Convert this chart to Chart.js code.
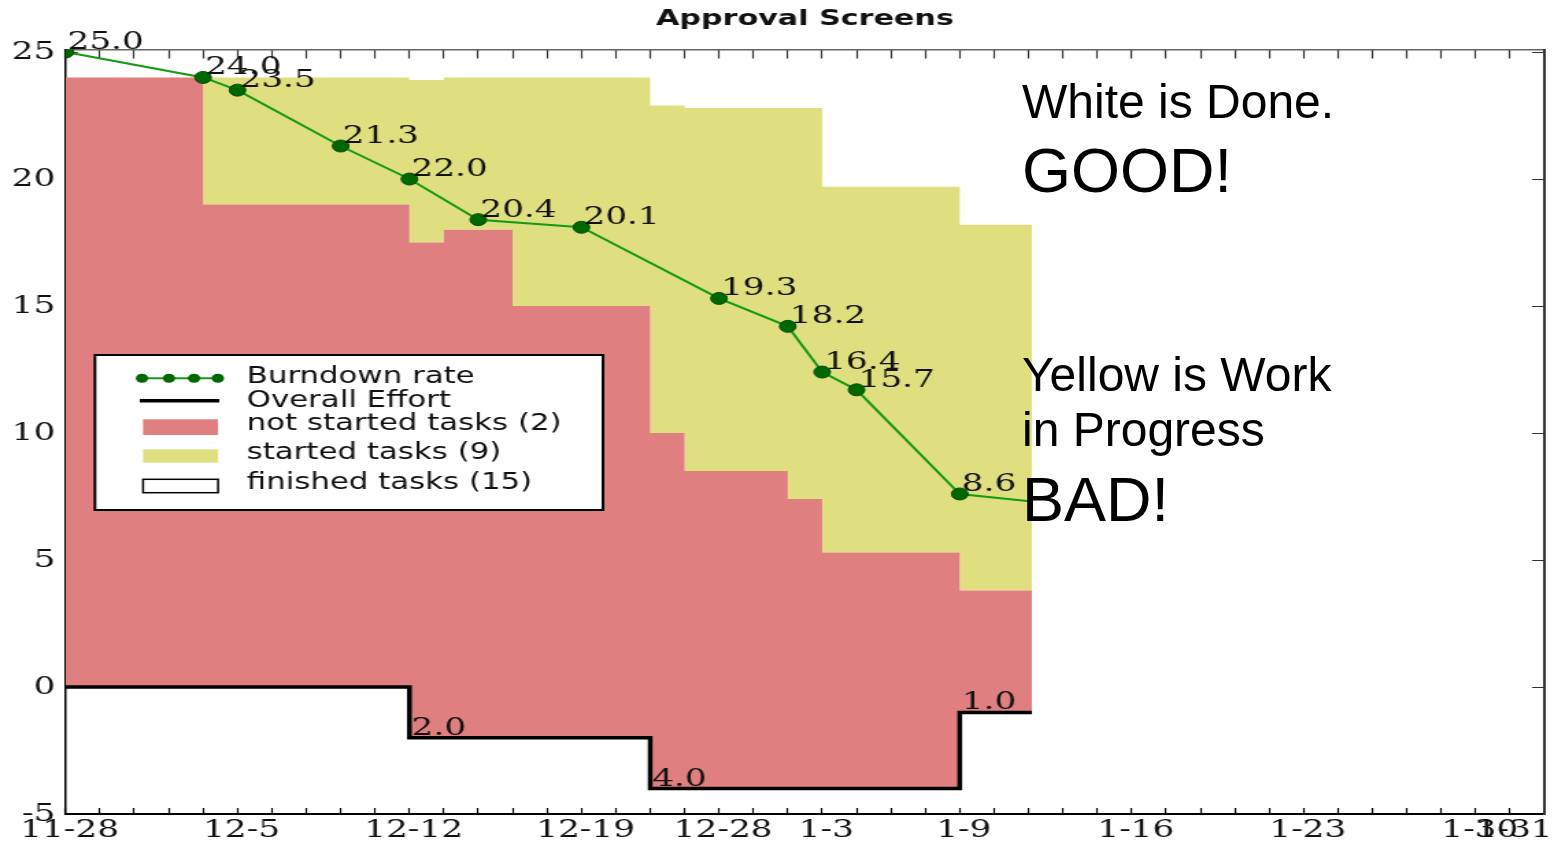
<!DOCTYPE html>
<html>
<head>
<meta charset="utf-8">
<title>Approval Screens</title>
<script src="https://cdn.jsdelivr.net/npm/chart.js@4"></script>
<style>
    html, body { margin: 0; padding: 0; background: #fff; overflow: hidden; }
    #wrap { position: relative; width: 1554px; height: 845px; }
    #chart { position: absolute; left: 0; top: 0; }
    .note { position: absolute; left: 1022px; font-family: "Liberation Sans", Arial, sans-serif; color: #000; line-height: 1; white-space: nowrap; }
    .small { font-size: 48px; }
    .big { font-size: 63px; }
</style>
</head>
<body>
<div id="wrap">
    <!-- the picture is a horizontally stretched plot, so the canvas is drawn narrow and stretched -->
    <canvas id="chart" width="1134" height="845" style="width:1554px;height:845px"></canvas>
    <div class="note small" style="top: 78px;">White is Done.</div>
    <div class="note big" style="top: 139px;">GOOD!</div>
    <div class="note small" style="top: 351px;">Yellow is Work</div>
    <div class="note small" style="top: 406px;">in Progress</div>
    <div class="note big" style="top: 468px;">BAD!</div>
</div>
<script>
// x axis is working days counted from 11-28
const dayTicks = [0, 1, 2, 3, 4, 5, 6, 7, 8, 9, 10, 11, 12, 13, 14, 15, 16, 17, 18, 19, 20,
    21, 22, 23, 24, 25, 26, 27, 28, 29, 30, 31, 32, 33, 34, 35, 36, 37, 38, 39, 40, 41, 42];
const labelDays = [0, 5, 10, 15, 19, 22, 26, 31, 36, 41, 42];
const labelTexts = ['11-28', '12-5', '12-12', '12-19', '12-28', '1-3', '1-9', '1-16', '1-23', '1-30', '1-31'];
const yTicks = [-5, 0, 5, 10, 15, 20, 25];

// burndown rate
const burnDays = [0, 4, 5, 8, 10, 12, 15, 19, 21, 22, 23, 26, 28.1];
const burnValues = [25.0, 24.0, 23.5, 21.3, 20.0, 18.4, 18.1, 15.3, 14.2, 12.4, 11.7, 7.6, 7.3];
const burnLabels = ['25.0', '24.0', '23.5', '21.3', '22.0', '20.4', '20.1', '19.3', '18.2', '16.4', '15.7', '8.6', ''];

// stacked steps (value holds until the next day in the list)
const stepDays = [0, 4, 10, 11, 13, 17, 18, 21, 22, 26, 28.1];
const overallEffort = [0, 0, -2, -2, -2, -4, -4, -4, -4, -1, -1];
const notStartedTop = [24.0, 19.0, 17.5, 18.0, 15.0, 10.0, 8.5, 7.4, 5.3, 3.8, 3.8];
const startedTop = [24.0, 24.0, 23.9, 24.0, 24.0, 22.9, 22.8, 22.8, 19.7, 18.2, 18.2];

const effortLabelDays = [10, 17, 26];
const effortLabelTexts = ['2.0', '4.0', '1.0'];

const legendLabels = ['Burndown rate', 'Overall Effort', 'not started tasks (2)', 'started tasks (9)', 'finished tasks (15)'];

const GREEN = '#149a14';
const DOT = '#006800';
const RED = '#e07f80';
const YELLOW = '#e0df80';
const serif = '"DejaVu Serif", "Liberation Serif", serif';
const sans = '"DejaVu Sans", "Noto Sans", sans-serif';

const pts = (xs, ys) => xs.map((d, i) => ({ x: d, y: ys[i] }));

const valueLabels = {
    id: 'valueLabels',
    afterDatasetsDraw(chart) {
        const { ctx, scales: { x, y } } = chart;
        ctx.save();
        ctx.font = '25px ' + serif;
        ctx.fillStyle = '#111';
        ctx.textAlign = 'left';
        ctx.textBaseline = 'alphabetic';
        burnDays.forEach((d, i) => {
            if (!burnLabels[i]) return;
            ctx.fillText(burnLabels[i], x.getPixelForValue(d) + 1.5, y.getPixelForValue(burnValues[i]) - 3);
        });
        effortLabelDays.forEach((d, i) => {
            const v = overallEffort[stepDays.indexOf(d)];
            ctx.fillText(effortLabelTexts[i], x.getPixelForValue(d) + 1.5, y.getPixelForValue(v) - 3);
        });
        ctx.restore();
    }
};

// legend box sits inside the plot, left middle
const boxLegend = {
    id: 'boxLegend',
    afterDraw(chart) {
        const ctx = chart.ctx;
        const left = 69.3, top = 355, right = 440, bottom = 510;
        const hx0 = 104.4, hx1 = 159.1, tx = 180;
        ctx.save();
        ctx.fillStyle = '#fff';
        ctx.fillRect(left, top, right - left, bottom - top);
        ctx.strokeStyle = '#000';
        ctx.lineWidth = 2;
        ctx.strokeRect(left, top, right - left, bottom - top);

        // burndown handle
        ctx.strokeStyle = GREEN;
        ctx.lineWidth = 2;
        ctx.beginPath();
        ctx.moveTo(100, 378.3);
        ctx.lineTo(163, 378.3);
        ctx.stroke();
        ctx.fillStyle = DOT;
        [103.6, 123.3, 141.6, 159].forEach(cx => {
            ctx.beginPath();
            ctx.arc(cx, 378.3, 4.5, 0, Math.PI * 2);
            ctx.fill();
        });

        // overall effort handle
        ctx.strokeStyle = '#000';
        ctx.lineWidth = 3.5;
        ctx.beginPath();
        ctx.moveTo(102, 400.7);
        ctx.lineTo(160, 400.7);
        ctx.stroke();

        ctx.fillStyle = RED;
        ctx.fillRect(hx0, 419.3, hx1 - hx0, 15.7);
        ctx.fillStyle = YELLOW;
        ctx.fillRect(hx0, 449.3, hx1 - hx0, 13.4);
        ctx.fillStyle = '#fff';
        ctx.fillRect(hx0, 479.3, hx1 - hx0, 13.4);
        ctx.strokeStyle = '#000';
        ctx.lineWidth = 1.5;
        ctx.strokeRect(hx0, 479.3, hx1 - hx0, 13.4);

        ctx.font = '22.5px ' + sans;
        ctx.fillStyle = '#111';
        ctx.textAlign = 'left';
        ctx.textBaseline = 'alphabetic';
        const baselines = [383, 406.5, 430, 459, 489];
        legendLabels.forEach((t, i) => ctx.fillText(t, tx, baselines[i]));
        ctx.restore();
    }
};

new Chart(document.getElementById('chart'), {
    type: 'line',
    data: {
        datasets: [
            {
                label: legendLabels[0],
                data: pts(burnDays, burnValues),
                borderColor: GREEN,
                borderWidth: 2,
                tension: 0,
                fill: false,
                pointRadius: burnLabels.map(l => l ? 6 : 0),
                pointBackgroundColor: DOT,
                pointBorderColor: '#0b4a0b',
                pointBorderWidth: 1
            },
            {
                label: legendLabels[1],
                data: pts(stepDays, overallEffort),
                stepped: 'before',
                borderColor: '#000',
                borderWidth: 3.5,
                pointRadius: 0,
                fill: false
            },
            {
                label: legendLabels[2],
                data: pts(stepDays, notStartedTop),
                stepped: 'before',
                borderWidth: 0,
                borderColor: RED,
                backgroundColor: RED,
                pointRadius: 0,
                fill: 1
            },
            {
                label: legendLabels[3],
                data: pts(stepDays, startedTop),
                stepped: 'before',
                borderWidth: 0,
                borderColor: YELLOW,
                backgroundColor: YELLOW,
                pointRadius: 0,
                fill: 2
            }
        ]
    },
    options: {
        responsive: false,
        devicePixelRatio: 1,
        animation: false,
        events: [],
        layout: { padding: { left: 0, right: 5.1, top: 0, bottom: 0 } },
        plugins: {
            legend: { display: false },
            tooltip: { enabled: false },
            title: {
                display: true,
                text: 'Approval Screens',
                fullSize: false,
                color: '#111',
                font: { family: sans, size: 22, weight: 'bold' },
                padding: { top: 6, bottom: 17.1 }
            }
        },
        scales: {
            x: {
                type: 'linear',
                position: 'bottom',
                min: 0,
                max: 43,
                afterBuildTicks: s => { s.ticks = dayTicks.map(v => ({ value: v })); },
                afterFit: s => { s.height = 31; s.paddingLeft = 0; s.paddingRight = 0; },
                grid: { drawOnChartArea: false, drawTicks: true, tickLength: -6, tickColor: '#000', tickWidth: 1.2 },
                border: { color: '#000', width: 2 },
                ticks: {
                    autoSkip: false,
                    maxRotation: 0,
                    padding: 7,
                    labelOffset: 3,
                    color: '#111',
                    font: { family: serif, size: 25 },
                    callback: v => {
                        const k = labelDays.indexOf(v);
                        return k < 0 ? '' : labelTexts[k];
                    }
                }
            },
            xTop: {
                type: 'linear',
                position: 'top',
                min: 0,
                max: 43,
                afterBuildTicks: s => { s.ticks = dayTicks.map(v => ({ value: v })); },
                afterFit: s => { s.height = 0; s.paddingLeft = 0; s.paddingRight = 0; },
                grid: { drawOnChartArea: false, drawTicks: true, tickLength: -9, tickColor: '#333', tickWidth: 1.2 },
                border: { color: '#666', width: 1.5 },
                ticks: { display: false }
            },
            y: {
                type: 'linear',
                position: 'left',
                min: -5,
                max: 25.1,
                afterBuildTicks: s => { s.ticks = yTicks.map(v => ({ value: v })); },
                afterFit: s => { s.width = 47.8; s.paddingTop = 0; s.paddingBottom = 0; },
                grid: { drawOnChartArea: false, drawTicks: true, tickLength: -9, tickColor: '#333', tickWidth: 1 },
                border: { color: '#000', width: 1.5 },
                ticks: { padding: 16.5, color: '#111', font: { family: serif, size: 25 } }
            },
            yRight: {
                type: 'linear',
                position: 'right',
                min: -5,
                max: 25.1,
                afterBuildTicks: s => { s.ticks = yTicks.map(v => ({ value: v })); },
                afterFit: s => { s.width = 0; s.paddingTop = 0; s.paddingBottom = 0; },
                grid: { drawOnChartArea: false, drawTicks: true, tickLength: -9, tickColor: '#333', tickWidth: 1 },
                border: { color: '#333', width: 2 },
                ticks: { display: false }
            }
        }
    },
    plugins: [valueLabels, boxLegend]
});
</script>
</body>
</html>
